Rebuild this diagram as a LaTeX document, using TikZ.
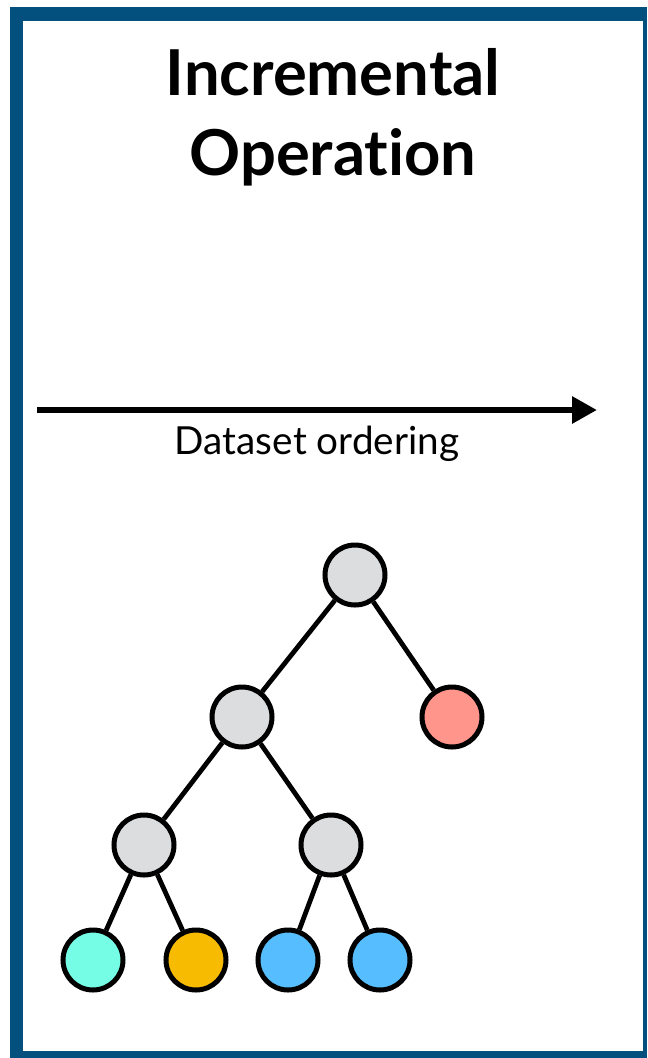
\documentclass[tikz,border=0pt]{standalone}
\usepackage{fontspec}
\setmainfont{Lato}[Ligatures={NoCommon}]
\usetikzlibrary{arrows.meta}
\definecolor{frameblue}{HTML}{03507F}
\definecolor{nodegray}{HTML}{DCDDDF}
\definecolor{nodered}{HTML}{FF958B}
\definecolor{nodecyan}{HTML}{76FDE6}
\definecolor{nodeyellow}{HTML}{F7BB02}
\definecolor{nodeblue}{HTML}{56BEFE}
\tikzset{
  treenode/.style={circle, draw=black, line width=3.75pt, minimum size=45pt, inner sep=0pt},
  treeedge/.style={draw=black, line width=3.6pt},
  titletext/.style={anchor=base, inner sep=0pt, font=\bfseries\fontsize{47.5}{54}\selectfont},
  labeltext/.style={anchor=base, inner sep=0pt, font=\fontsize{29}{34}\selectfont},
}
\begin{document}
\begin{tikzpicture}[x=0.75pt, y=-0.75pt]
\useasboundingbox (0,0) rectangle (647,1058);
% frame
\fill[frameblue] (10,7) rectangle (647,1058);
\fill[white] (23,21) rectangle (643,1051);
% title
\node[titletext] (t1) at (333,95) {Incremental};
\node[titletext] (t2) at (333,175) {Operation};
% arrow
\coordinate (as) at (37,410);
\coordinate (ae) at (597,410);
\draw[line width=4.5pt, -{Triangle[length=18.75pt, width=19.5pt]}] (as) -- (ae);
\node[labeltext] (lbl) at (317,454) {Dataset ordering};
% tree nodes
\node[treenode, fill=nodegray] (r) at (355,575) {};
\node[treenode, fill=nodegray] (a) at (242,717) {};
\node[treenode, fill=nodered] (rr) at (452,717) {};
\node[treenode, fill=nodegray] (b) at (144,845) {};
\node[treenode, fill=nodegray] (c) at (331,845) {};
\node[treenode, fill=nodecyan] (l1) at (93,960) {};
\node[treenode, fill=nodeyellow] (l2) at (196,960) {};
\node[treenode, fill=nodeblue] (l3) at (288,960) {};
\node[treenode, fill=nodeblue] (l4) at (380,960) {};
% edges
\draw[treeedge] (r) -- (a);
\draw[treeedge] (r) -- (rr);
\draw[treeedge] (a) -- (b);
\draw[treeedge] (a) -- (c);
\draw[treeedge] (b) -- (l1);
\draw[treeedge] (b) -- (l2);
\draw[treeedge] (c) -- (l3);
\draw[treeedge] (c) -- (l4);
\end{tikzpicture}
\end{document}
